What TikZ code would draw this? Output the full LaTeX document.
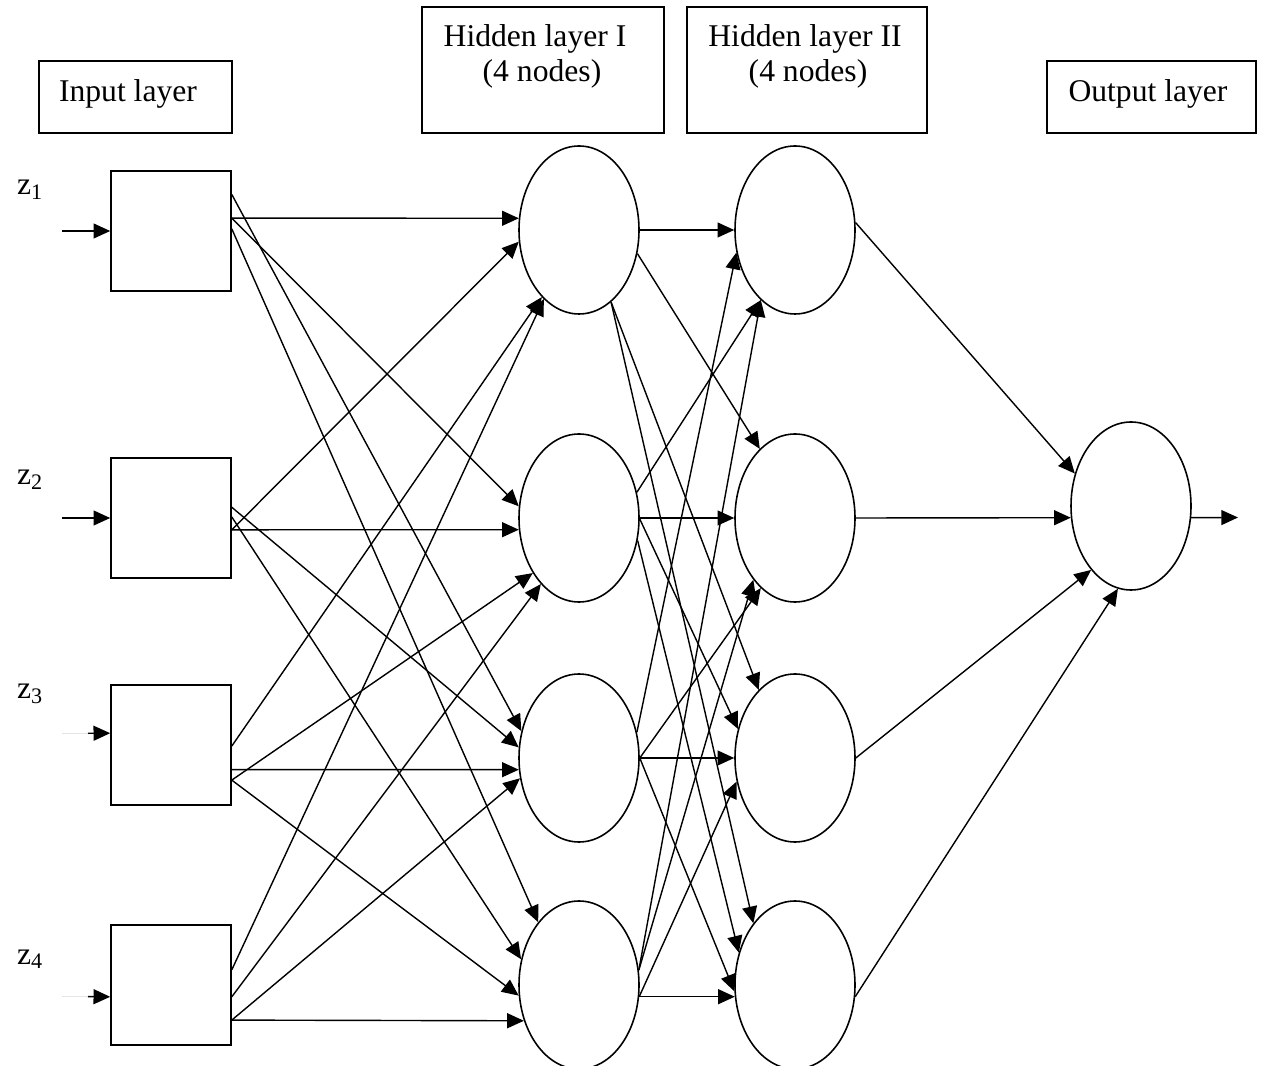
\documentclass[tikz,border=0pt]{standalone}
\usepackage{fontspec}
\setmainfont{Liberation Serif}
\usepackage{tikz}
\usetikzlibrary{arrows.meta}
\usetikzlibrary{shapes.geometric}

\tikzset{
  squnit/.style={draw, line width=0.9pt, minimum size=2.4cm, inner sep=0pt},
  neuron/.style={draw, ellipse, line width=0.9pt, minimum width=2.4cm, minimum height=3.36cm, inner sep=0pt},
  headbox/.style={draw, line width=0.9pt, inner sep=0pt},
  wire/.style={line width=0.8pt, -{Triangle[length=9.5pt, width=8.5pt]}},
}

\begin{document}
\begin{tikzpicture}[font=\fontsize{18}{21}\selectfont]
            \useasboundingbox (0.000, 0.000) rectangle (25.260, 21.300);

            % layer captions
            \node[headbox, minimum width=3.860cm, minimum height=1.440cm] (inhead) at (2.710, 19.360) {};
            \node[headbox, minimum width=4.840cm, minimum height=2.520cm] (h1head) at (10.860, 19.900) {};
            \node[headbox, minimum width=4.800cm, minimum height=2.520cm] (h2head) at (16.140, 19.900) {};
            \node[headbox, minimum width=4.180cm, minimum height=1.440cm] (outhead) at (23.030, 19.360) {};
            \node[anchor=base] (inheadtxt) at (2.560, 19.260) {Input layer};
            \node[anchor=base] (h1headtxt) at (10.700, 20.360) {Hidden layer I};
            \node[anchor=base] (h1headsub) at (10.840, 19.660) {(4 nodes)};
            \node[anchor=base] (h2headtxt) at (16.100, 20.360) {Hidden layer II};
            \node[anchor=base] (h2headsub) at (16.160, 19.660) {(4 nodes)};
            \node[anchor=base] (outheadtxt) at (22.960, 19.260) {Output layer};

            % inputs
            \node[anchor=base west] (z1) at (0.220, 17.400) {z\textsubscript{1}};
            \node[anchor=base west] (z2) at (0.220, 11.600) {z\textsubscript{2}};
            \node[anchor=base west] (z3) at (0.220, 7.320) {z\textsubscript{3}};
            \node[anchor=base west] (z4) at (0.220, 2.020) {z\textsubscript{4}};
            \node[squnit] (in1) at (3.420, 16.680) {};
            \node[squnit] (in2) at (3.420, 10.940) {};
            \node[squnit] (in3) at (3.420, 6.400) {};
            \node[squnit] (in4) at (3.420, 1.600) {};
            \coordinate (t1) at (1.240, 16.680);
            \coordinate (t2) at (1.240, 10.940);
            \coordinate (t3) at (1.760, 6.634);
            \coordinate (t3f) at (1.240, 6.634);
            \coordinate (t4) at (1.760, 1.367);
            \coordinate (t4f) at (1.240, 1.367);

            % hidden layers and output
            \node[neuron] (h11) at (11.580, 16.700) {};
            \node[neuron] (h12) at (11.580, 10.940) {};
            \node[neuron] (h13) at (11.580, 6.140) {};
            \node[neuron] (h14) at (11.580, 1.600) {};
            \node[neuron] (h21) at (15.900, 16.700) {};
            \node[neuron] (h22) at (15.900, 10.940) {};
            \node[neuron] (h23) at (15.900, 6.140) {};
            \node[neuron] (h24) at (15.900, 1.600) {};
            \node[neuron] (out) at (22.620, 11.180) {};
            \coordinate (y) at (24.760, 10.950);

            \draw[wire] (t1) -- (in1.west);
            \draw[wire] (t2) -- (in2.west);
            \draw[line width=0.8pt, black!10] (t3f) -- (t3);
            \draw[wire] (t3) -- (in3.169);
            \draw[line width=0.8pt, black!10] (t4f) -- (t4);
            \draw[wire] (t4) -- (in4.191);

            \draw[wire] (in1.12) -- (h11.169);
            \draw[wire] (in1.12) -- (h12.169);
            \draw[wire] (in1.31) -- (h13.155);
            \draw[wire] (in1.2) -- (h14.123);
            \draw[wire] (in2.349) -- (h12.191);
            \draw[wire] (in2.349) -- (h11.191);
            \draw[wire] (in2.10) -- (h13.170);
            \draw[wire] (in2.1) -- (h14.156);
            \draw[wire] (in3.338) -- (h13.191);
            \draw[wire] (in3.359) -- (h11.241);
            \draw[wire] (in3.330) -- (h12.230);
            \draw[wire] (in3.330) -- (h14.190);
            \draw[wire] (in4.330) -- (h14.213);
            \draw[wire] (in4.14) -- (h11.243);
            \draw[wire] (in4.349) -- (h12.240);
            \draw[wire] (in4.330) -- (h13.199);

            \draw[wire] (h11.0) -- (h21.180);
            \draw[wire] (h11.338) -- (h22.117);
            \draw[wire] (h11.294) -- (h23.118);
            \draw[wire] (h11.294) -- (h24.124);
            \draw[wire] (h12.24) -- (h21.244);
            \draw[wire] (h12.0) -- (h22.180);
            \draw[wire] (h12.359) -- (h23.153);
            \draw[wire] (h12.339) -- (h24.150);
            \draw[wire] (h13.24) -- (h21.201);
            \draw[wire] (h13.0) -- (h22.244);
            \draw[wire] (h13.0) -- (h23.180);
            \draw[wire] (h13.0) -- (h24.186);
            \draw[wire] (h14.14) -- (h21.244);
            \draw[wire] (h14.14) -- (h22.236);
            \draw[wire] (h14.349) -- (h23.202);
            \draw[wire] (h14.349) -- (h24.191);

            \draw[wire] (h21.7) -- (out.150);
            \draw[wire] (h22.0) -- (out.191);
            \draw[wire] (h23.0) -- (out.238);
            \draw[wire] (h24.349) -- (out.261);
            \draw[wire] (out.349) -- (y);
\end{tikzpicture}
\end{document}
